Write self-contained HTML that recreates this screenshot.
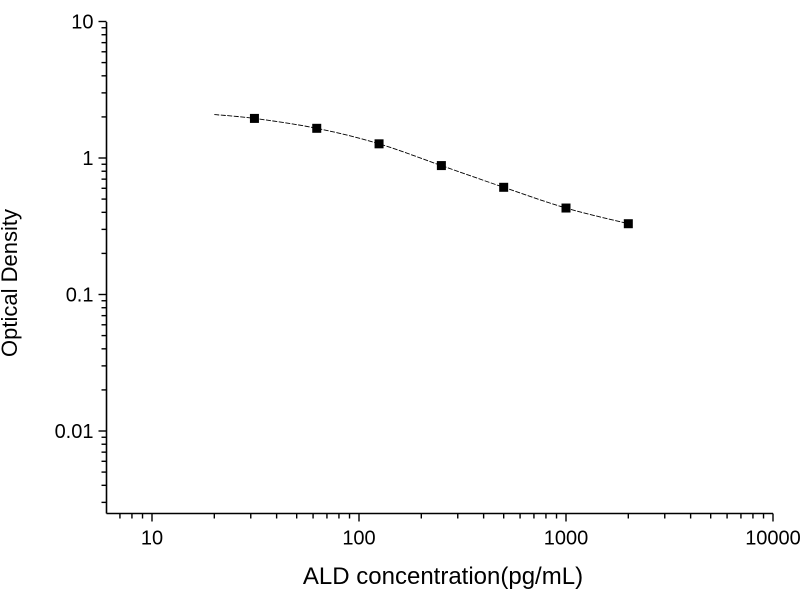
<!DOCTYPE html>
<html><head><meta charset="utf-8"><style>
body{margin:0;background:#fff}
svg{display:block}
text{font-family:"Liberation Sans",Arial,sans-serif;fill:#000}
</style></head><body>
<svg id="s" width="800" height="600" xmlns="http://www.w3.org/2000/svg">
<g id="g"></g>
<text x="17" y="283" font-size="22" text-anchor="middle" transform="rotate(-90 17 283)">Optical Density</text>
<text x="443" y="584" font-size="24" text-anchor="middle">ALD concentration(pg/mL)</text>
</svg>
<script>
const L=106.5,B=513.5,R=773,T=22;
const X=v=>152+207*Math.log10(v/10), Y=v=>158-136.5*Math.log10(v);
let h='';
h+=`<line x1="${L}" y1="${T}" x2="${L}" y2="${B}" stroke="#000" stroke-width="1.6"/>`;
h+=`<line x1="${L}" y1="${B}" x2="${R}" y2="${B}" stroke="#000" stroke-width="1.6"/>`;
for(let e=-3;e<=1;e++){for(let m=1;m<10;m++){const v=m*Math.pow(10,e);if(v>10.01)continue;const y=Y(v);if(y>B)continue;
const len=m==1?8:5;h+=`<line x1="${L-len}" y1="${y}" x2="${L}" y2="${y}" stroke="#000" stroke-width="1.4"/>`;}}
[[10,'10'],[1,'1'],[0.1,'0.1'],[0.01,'0.01']].forEach(([v,t])=>h+=`<text x="${L-13}" y="${Y(v)+7}" font-size="20" text-anchor="end">${t}</text>`);
for(let e=0;e<=4;e++){for(let m=1;m<10;m++){const v=m*Math.pow(10,e);if(v>10000)continue;const x=X(v);if(x<L)continue;
const len=m==1?8:5;h+=`<line x1="${x}" y1="${B}" x2="${x}" y2="${B+len}" stroke="#000" stroke-width="1.4"/>`;}}
[[10,'10'],[100,'100'],[1000,'1000'],[10000,'10000']].forEach(([v,t])=>h+=`<text x="${X(v)}" y="${B+31}" font-size="20" text-anchor="middle">${t}</text>`);
const pts=[[20,2.08],[31.25,1.95],[62.5,1.65],[125,1.27],[250,0.88],[500,0.61],[1000,0.43],[2000,0.33]].map(([x,y])=>[X(x),Y(y)]);
let p='M'+pts[0][0]+','+pts[0][1];
for(let i=0;i<pts.length-1;i++){const p0=pts[Math.max(0,i-1)],p1=pts[i],p2=pts[i+1],p3=pts[Math.min(pts.length-1,i+2)];
p+=`C${p1[0]+(p2[0]-p0[0])/6},${p1[1]+(p2[1]-p0[1])/6} ${p2[0]-(p3[0]-p1[0])/6},${p2[1]-(p3[1]-p1[1])/6} ${p2[0]},${p2[1]}`;}
h+=`<path d="${p}" fill="none" stroke="#000" stroke-width="0.9" stroke-dasharray="5,1.5"/>`;
pts.slice(1).forEach(([x,y])=>h+=`<rect x="${x-4.5}" y="${y-4.5}" width="9" height="9" fill="#000"/>`);
document.getElementById('g').innerHTML=h;
</script>
</body></html>
